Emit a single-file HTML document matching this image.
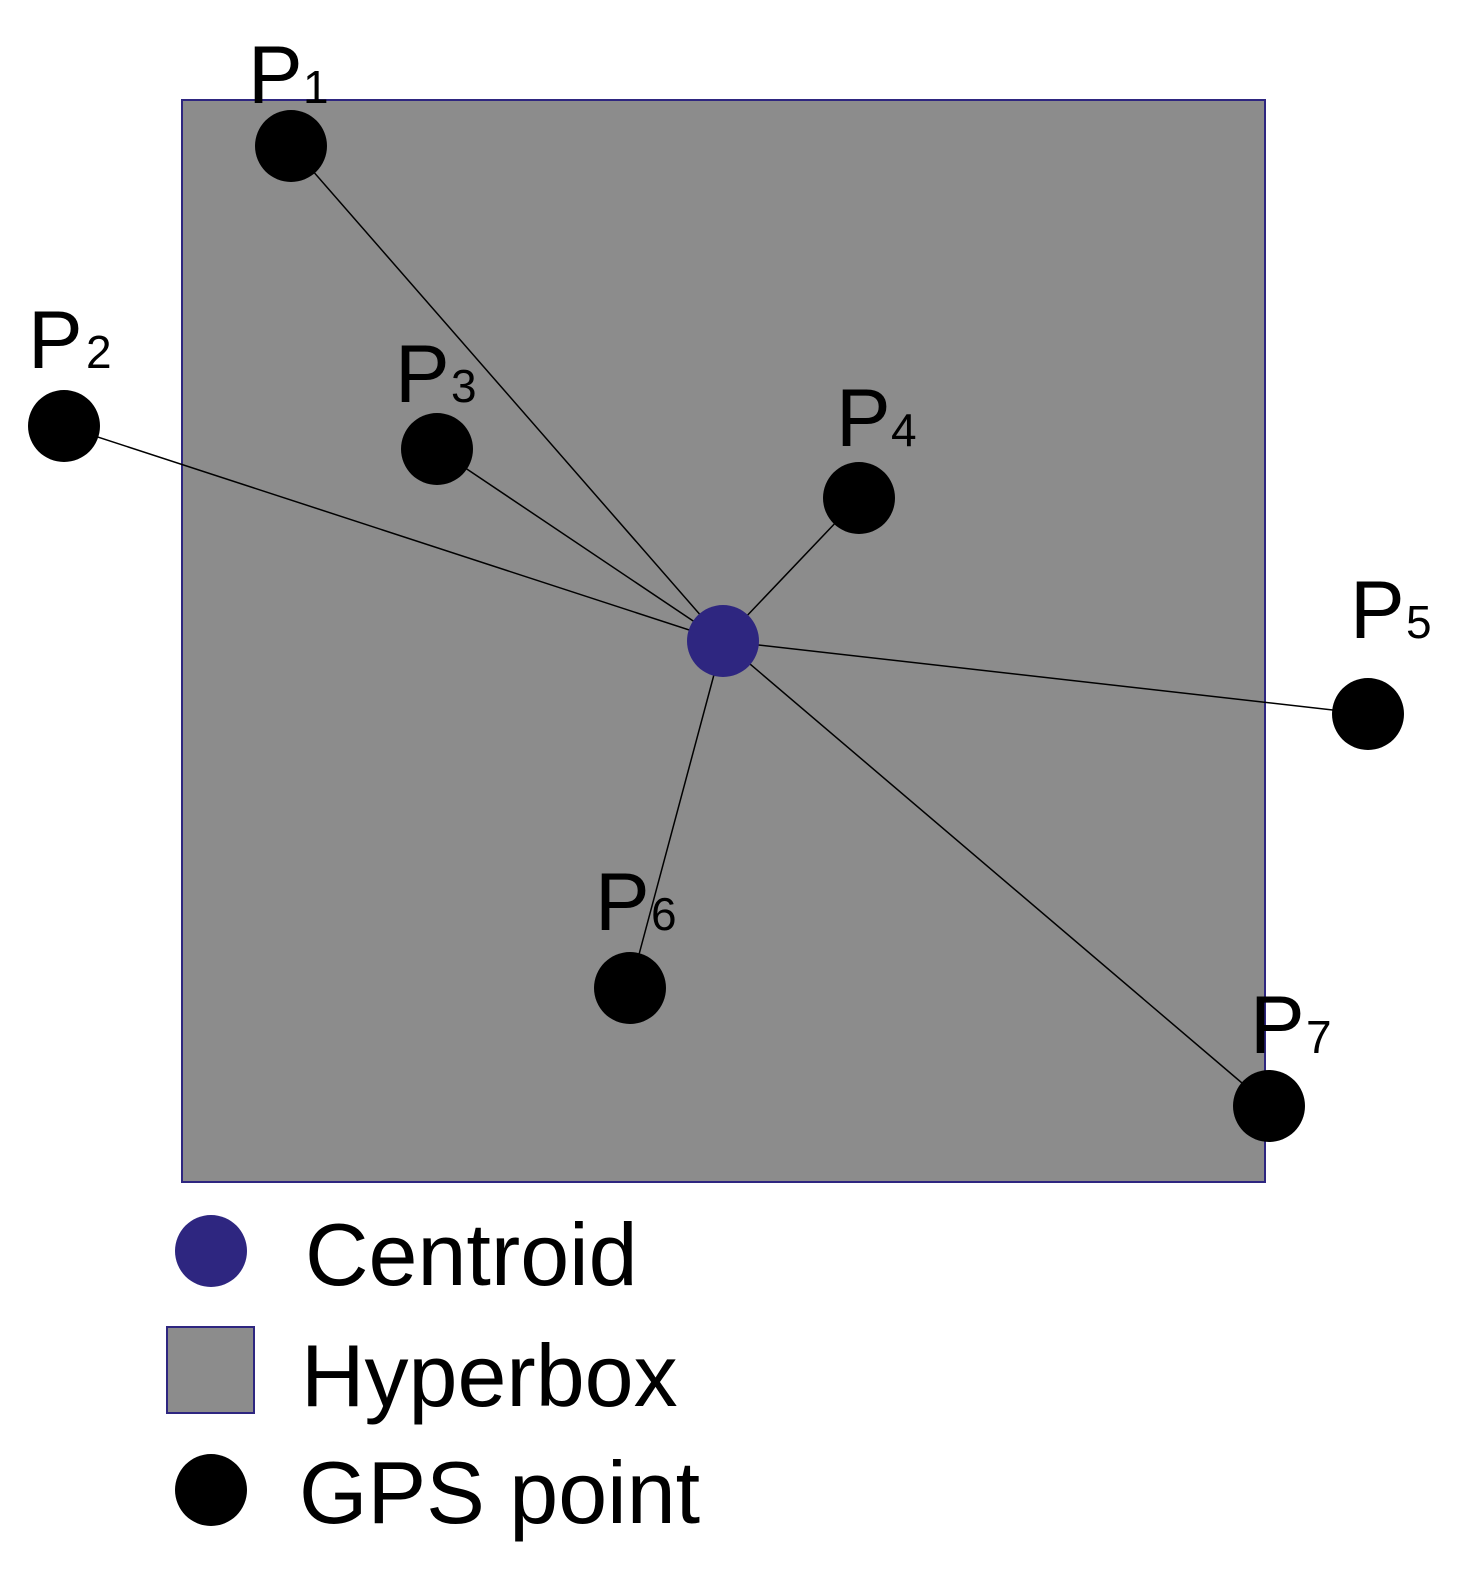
<!DOCTYPE html>
<html><head><meta charset="utf-8"><style>
html,body{margin:0;padding:0;background:#fff;}
svg{display:block;}
text{font-family:"Liberation Sans",Arial,sans-serif;fill:#000;}
</style></head><body>
<svg width="1469" height="1577" viewBox="0 0 1469 1577" xmlns="http://www.w3.org/2000/svg">
<rect x="182" y="100" width="1083" height="1082" fill="#8c8c8c" stroke="#2e2680" stroke-width="2"/>
<g stroke="#000" stroke-width="1.5">
<line x1="723" y1="641" x2="291" y2="146"/>
<line x1="723" y1="641" x2="64" y2="426"/>
<line x1="723" y1="641" x2="437" y2="449"/>
<line x1="723" y1="641" x2="859" y2="498"/>
<line x1="723" y1="641" x2="1368" y2="714"/>
<line x1="723" y1="641" x2="630" y2="988"/>
<line x1="723" y1="641" x2="1269" y2="1106"/>
</g>
<g fill="#000">
<circle cx="291" cy="146" r="36"/>
<circle cx="64" cy="426" r="36"/>
<circle cx="437" cy="449" r="36"/>
<circle cx="859" cy="498" r="36"/>
<circle cx="1368" cy="714" r="36"/>
<circle cx="630" cy="988" r="36"/>
<circle cx="1269" cy="1106" r="36"/>
</g>
<circle cx="723" cy="641" r="36" fill="#2e2680"/>
<g font-size="82">
<text x="248" y="103">P</text><text x="303" y="103" font-size="46">1</text>
<text x="28" y="368">P</text><text x="86" y="368" font-size="46">2</text>
<text x="395" y="402">P</text><text x="451" y="402" font-size="46">3</text>
<text x="836" y="446">P</text><text x="891" y="446" font-size="46">4</text>
<text x="1350" y="638">P</text><text x="1406" y="638" font-size="46">5</text>
<text x="595" y="930">P</text><text x="651" y="930" font-size="46">6</text>
<text x="1250" y="1053">P</text><text x="1306" y="1053" font-size="46">7</text>
</g>
<circle cx="211" cy="1251" r="36" fill="#2e2680"/>
<rect x="167" y="1327" width="87" height="86" fill="#8c8c8c" stroke="#2e2680" stroke-width="2"/>
<circle cx="211" cy="1490" r="36" fill="#000"/>
<g font-size="88">
<text x="305" y="1285">Centroid</text>
<text x="301" y="1406">Hyperbox</text>
<text x="299" y="1523">GPS point</text>
</g>
</svg>
</body></html>
